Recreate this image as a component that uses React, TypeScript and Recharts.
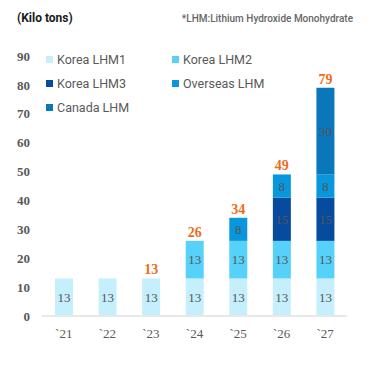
import React from 'react';
import { BarChart, Bar, XAxis, YAxis, LabelList } from 'recharts';

const years = ['`21', '`22', '`23', '`24', '`25', '`26', '`27'];
const koreaLHM1 = [13, 13, 13, 13, 13, 13, 13];
const koreaLHM2 = [0, 0, 0, 13, 13, 13, 13];
const koreaLHM3 = [0, 0, 0, 0, 0, 15, 15];
const overseasLHM = [0, 0, 0, 0, 8, 8, 8];
const canadaLHM = [0, 0, 0, 0, 0, 0, 30];
const totalLabels: (number | null)[] = [null, null, 13, 26, 34, 49, 79];
const yTicks = [0, 10, 20, 30, 40, 50, 60, 70, 80, 90];

const seriesNames = ['Korea LHM1', 'Korea LHM2', 'Korea LHM3', 'Overseas LHM', 'Canada LHM'];
const seriesKeys = ['k1', 'k2', 'k3', 'ov', 'ca'];
const seriesColors = ['#c6effd', '#56d2fa', '#074b9e', '#0897dc', '#0b77bb'];
const seriesValues = [koreaLHM1, koreaLHM2, koreaLHM3, overseasLHM, canadaLHM];

const data = years.map((y, i) => {
  const row: any = { year: y };
  let top = -1;
  seriesKeys.forEach((k, s) => {
    row[k] = seriesValues[s][i];
    if (seriesValues[s][i]) top = s;
  });
  seriesKeys.forEach((k, s) => {
    row['t_' + k] = s === top ? totalLabels[i] : null;
  });
  return row;
});

const serif = '"Liberation Serif", "Times New Roman", serif';
const sans = 'Roboto, "Liberation Sans", Arial, sans-serif';

const legendPos = [
  { left: 46, top: 59 },
  { left: 172, top: 59 },
  { left: 46, top: 83 },
  { left: 172, top: 83 },
  { left: 46, top: 107 },
];

export default function App() {
  return (
    <div style={{ position: 'absolute', left: 0, top: 0, width: 372, height: 370, background: '#fff' }}>
      <div style={{ position: 'absolute', left: 17, top: 11, fontFamily: sans, fontWeight: 700, fontSize: 12, color: '#1a1a1a' }}>
        (Kilo tons)
      </div>
      <div style={{ position: 'absolute', right: 19, top: 13, fontFamily: sans, fontWeight: 500, fontSize: 10, color: '#666' }}>
        *LHM:Lithium Hydroxide Monohydrate
      </div>
      <BarChart width={372} height={370} data={data} margin={{ top: 56, right: 25, bottom: 24, left: 0 }}>
        <XAxis
          dataKey="year"
          tickLine={false}
          axisLine={{ stroke: '#e8e8e8', strokeWidth: 2 }}
          tickMargin={7}
          tick={{ fontFamily: serif, fontSize: 13, fill: '#595959' }}
        />
        <YAxis
          domain={[0, 90]}
          ticks={yTicks}
          interval={0}
          width={42}
          axisLine={false}
          tickLine={false}
          tickSize={0}
          tickMargin={12}
          tick={{ fontFamily: serif, fontSize: 13, fill: '#595959', fontWeight: 700 }}
        />
        {seriesKeys.map((k, s) => (
          <Bar key={k} dataKey={k} stackId="a" fill={seriesColors[s]} barSize={18} isAnimationActive={false}>
            <LabelList
              dataKey={k}
              position="center"
              formatter={(v: any) => (v ? v : '')}
              style={{ fontFamily: serif, fontSize: 13, fill: '#555555' }}
            />
            <LabelList
              dataKey={'t_' + k}
              position="top"
              offset={4}
              formatter={(v: any) => (v == null ? '' : v)}
              style={{ fontFamily: serif, fontSize: 14, fontWeight: 700, fill: '#ee6c1a' }}
            />
          </Bar>
        ))}
      </BarChart>
      {seriesNames.map((n, s) => (
        <div
          key={n}
          style={{
            position: 'absolute',
            left: legendPos[s].left,
            top: legendPos[s].top - 8,
            height: 16,
            display: 'flex',
            alignItems: 'center',
            fontFamily: sans,
            fontSize: 12.5,
            color: '#595959',
            whiteSpace: 'nowrap',
          }}
        >
          <span style={{ display: 'inline-block', width: 7, height: 7, background: seriesColors[s], marginRight: 4 }} />
          {n}
        </div>
      ))}
    </div>
  );
}
